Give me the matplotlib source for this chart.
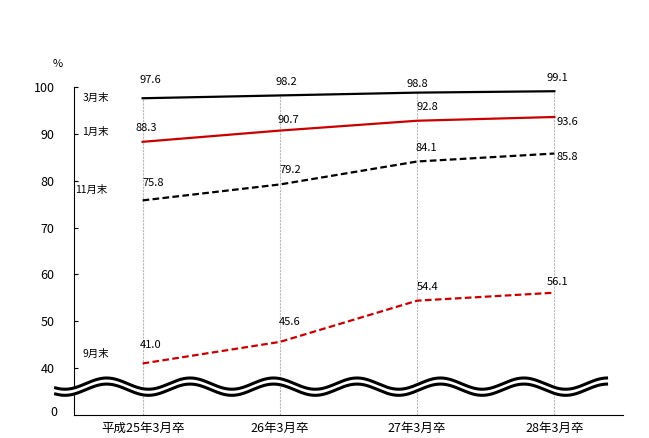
import numpy as np
import matplotlib.pyplot as plt

plt.rcParams['font.family'] = ['Noto Sans CJK JP', 'DejaVu Sans']

# data
categories = ['平成25年3月卒', '26年3月卒', '27年3月卒', '28年3月卒']
series_names = ['3月末', '1月末', '11月末', '9月末']
mar = [97.6, 98.2, 98.8, 99.1]
jan = [88.3, 90.7, 92.8, 93.6]
nov = [75.8, 79.2, 84.1, 85.8]
sep = [41.0, 45.6, 54.4, 56.1]
yticks = [40, 50, 60, 70, 80, 90, 100]

series = [mar, jan, nov, sep]
colors = ['black', '#cc0000', 'black', '#cc0000']
styles = ['-', '-', (0, (3, 1.5)), (0, (3, 1.5))]

# label offsets (pixels, right / up)
val_off = [
    [(8, 18), (7, 13), (0, 9), (3, 13)],
    [(4, 14), (8, 11), (10, 14), (13, -5)],
    [(11, 17), (10, 14), (9, 14), (13, -3)],
    [(8, 18), (10, 20), (10, 14), (3, 11)],
]
name_off = [(-47, 0), (-47, 10), (-51, 10), (-47, 10)]

fig = plt.figure(figsize=(6.49, 4.38), dpi=100)
ax = fig.add_axes([74/649, 23/438, 549/649, 328/438])
x = np.arange(len(categories))

ax.set_xlim(-0.5, 3.5)
ax.set_ylim(30, 100)

# drop lines
top = np.max(series, axis=0)
ax.vlines(x, 30, top, colors='#b8b8b8', lw=0.8, linestyles=(0, (2, 1)), zorder=1)

for vals, c, ls, offs, name, noff in zip(series, colors, styles, val_off, series_names, name_off):
    ax.plot(x, vals, color=c, ls=ls, lw=1.6, zorder=3)
    for xi, v, (dx, dy) in zip(x, vals, offs):
        ax.annotate(f'{v:.1f}', (xi, v), xytext=(dx*0.72, dy*0.72),
                    textcoords='offset points', ha='center', va='center', fontsize=8)
    ax.annotate(name, (x[0], vals[0]), xytext=(noff[0]*0.72, noff[1]*0.72),
                textcoords='offset points', ha='center', va='center', fontsize=7.5)

# axis break waves
wx = np.linspace(-0.634, 3.38, 400)
ph = np.cos(2*np.pi*(wx - 0.954)/0.608)
up = 36.7 + 1.2*ph
lo = 35.4 + 1.2*ph
ax.fill_between(wx, lo, up, color='white', zorder=5, clip_on=False)
ax.plot(wx, up, color='black', lw=2.2, zorder=6, clip_on=False)
ax.plot(wx, lo, color='black', lw=2.2, zorder=6, clip_on=False)

ax.spines['top'].set_visible(False)
ax.spines['right'].set_visible(False)
ax.set_xticks(x)
ax.set_xticklabels(categories, fontsize=9)
ax.tick_params(axis='x', length=0, pad=5)
ax.set_yticks(yticks)
ax.set_yticklabels([str(t) for t in yticks], fontsize=9)
ax.tick_params(axis='y', direction='in', length=3, pad=14)
ax.text(-0.5, 30.6, '0', transform=ax.transData, fontsize=9, ha='right', va='center')
ax.texts[-1].set_position((-0.5 - 17/137.3, 30.6))
fig.text(58/649, 1 - 64/438, '%', fontsize=8, ha='center', va='center')

fig.savefig('out.png', dpi=100)
